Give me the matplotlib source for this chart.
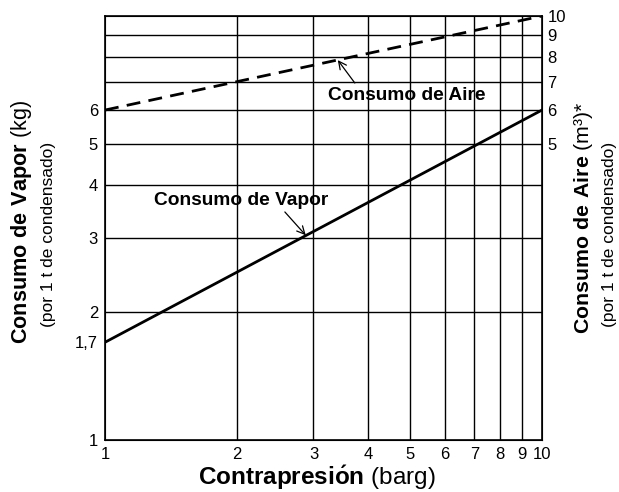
import matplotlib.pyplot as plt
import numpy as np

plt.rcParams['font.family'] = ['Liberation Sans', 'DejaVu Sans']
plt.rcParams['mathtext.fontset'] = 'custom'
plt.rcParams['mathtext.rm'] = 'Liberation Sans'
plt.rcParams['mathtext.bf'] = 'Liberation Sans:bold'

# data (log-log straight lines)
pressure = [1, 10]
steam = [1.7, 6]          # kg per t condensate
air = [6, 10]             # m3 per t condensate

left_ticks = [1, 1.7, 2, 3, 4, 5, 6]
left_labels = ['1', '1,7', '2', '3', '4', '5', '6']
right_ticks = [5, 6, 7, 8, 9, 10]
x_ticks = [1, 2, 3, 4, 5, 6, 7, 8, 9, 10]
grid_x = [2, 3, 4, 5, 6, 7, 8, 9]
grid_y = [2, 3, 4, 5, 6, 7, 8, 9]

fig = plt.figure(figsize=(6.19, 4.92), dpi=100)
ax = fig.add_axes([0.1696, 0.1057, 0.706, 0.8618])
ax.set_xscale('log')
ax.set_yscale('log')
ax.set_xlim(1, 10)
ax.set_ylim(1, 10)

for gx in grid_x:
    ax.axvline(gx, color='black', lw=1.0, zorder=1)
for gy in grid_y:
    ax.axhline(gy, color='black', lw=1.0, zorder=1)

ax.plot(pressure, steam, color='black', lw=2, zorder=3)
ax.plot(pressure, air, color='black', lw=2, linestyle=(0, (5, 3)), zorder=3)

ax.set_xticks(x_ticks)
ax.set_xticklabels([str(v) for v in x_ticks])
ax.set_yticks(left_ticks)
ax.set_yticklabels(left_labels)
ax.minorticks_off()
ax.tick_params(length=0, labelsize=12, pad=5)
for s in ax.spines.values():
    s.set_linewidth(1.2)

ax2 = ax.twinx()
ax2.set_yscale('log')
ax2.set_ylim(1, 10)
ax2.set_yticks(right_ticks)
ax2.set_yticklabels([str(v) for v in right_ticks])
ax2.minorticks_off()
ax2.tick_params(length=0, labelsize=12, pad=4)

# annotations
ax.text(2.05, 3.68, 'Consumo de Vapor', fontsize=13.8, fontweight='bold',
        ha='center', va='center', zorder=5)
ax.annotate('', xy=(2.88, 3.04), xytext=(2.58, 3.45),
            arrowprops=dict(arrowstyle='->', color='black', lw=0.9,
                            shrinkA=0, shrinkB=0, mutation_scale=14), zorder=5)
ax.text(4.91, 6.48, 'Consumo de Aire', fontsize=13.8, fontweight='bold',
        ha='center', va='center', zorder=5)
ax.annotate('', xy=(3.41, 7.87), xytext=(3.73, 6.95),
            arrowprops=dict(arrowstyle='->', color='black', lw=0.9,
                            shrinkA=0, shrinkB=0, mutation_scale=14), zorder=5)

# axis titles
fig.text(0.0355, 0.549, r'$\bf{Consumo\ de\ Vapor}$ (kg)', rotation=90,
         fontsize=15.6, ha='center', va='center')
fig.text(0.079, 0.524, '(por 1 t de condensado)', rotation=90,
         fontsize=12.5, ha='center', va='center')
fig.text(0.942, 0.557, r'$\bf{Consumo\ de\ Aire}$ (m³)*', rotation=90,
         fontsize=15.3, ha='center', va='center')
fig.text(0.984, 0.523, '(por 1 t de condensado)', rotation=90,
         fontsize=12.5, ha='center', va='center')
fig.text(0.511, 0.028, r'$\bf{Contrapresi\acute{o}n}$ (barg)',
         fontsize=17.5, ha='center', va='center')

fig.savefig('out.png', dpi=100)
